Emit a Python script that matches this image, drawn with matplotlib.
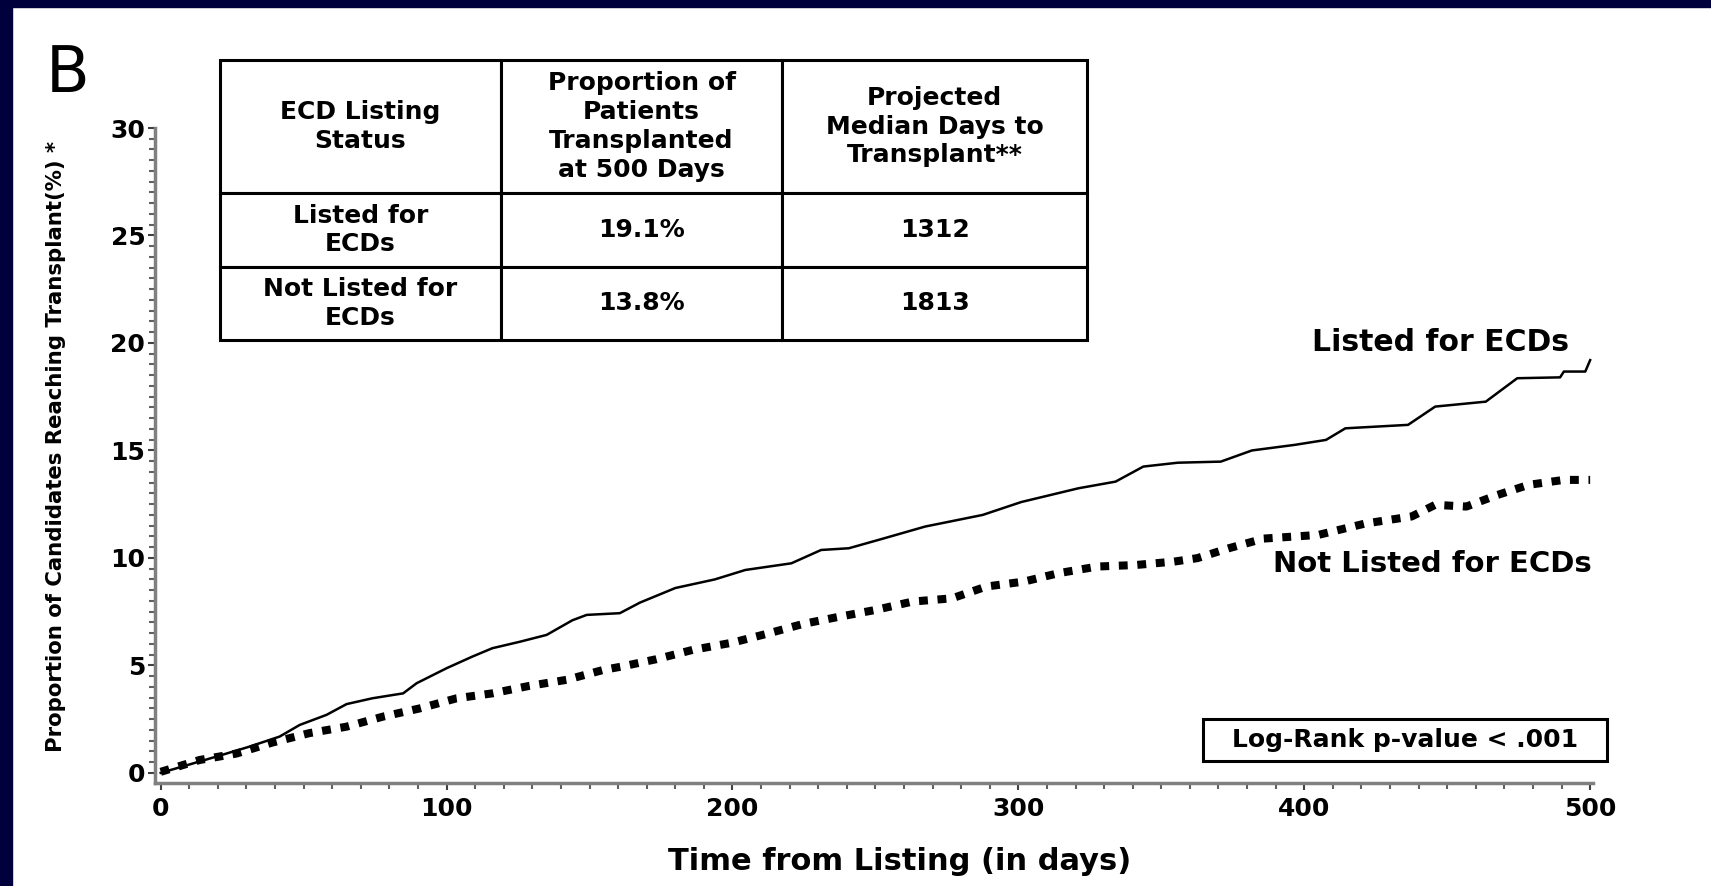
import matplotlib.pyplot as plt
from matplotlib.patches import Rectangle
from matplotlib.ticker import MultipleLocator

W, H = 1711, 886

# cumulative proportion transplanted (%)
days_listed = [0, 19.5, 31, 41.6, 48.6, 58, 65, 74, 84.8, 89.5, 100, 109, 116, 125.6, 135,
               144, 149, 160.6, 167.6, 180, 193.8, 204.5, 220.6, 231, 240.7, 252.7, 267.4,
               287.5, 301, 321, 334, 343.7, 355.8, 370.8, 381.7, 396.7, 407.6, 414.4, 436.3,
               445.8, 463.5, 474.5, 489.5, 490.8, 498.3, 500]
pct_listed = [0, 0.76, 1.22, 1.69, 2.23, 2.7, 3.2, 3.47, 3.7, 4.17, 4.87, 5.41, 5.8, 6.1, 6.42,
              7.1, 7.35, 7.43, 7.92, 8.6, 9.0, 9.44, 9.75, 10.37, 10.45, 10.9, 11.46,
              12.0, 12.6, 13.24, 13.55, 14.25, 14.43, 14.48, 15.0, 15.26, 15.49, 16.03, 16.19,
              17.04, 17.27, 18.36, 18.4, 18.67, 18.67, 19.2]

days_not = [0, 13.6, 26.5, 39, 52, 65, 77.8, 90.6, 103.5, 116, 129, 142, 154.8, 161, 173.4,
            186, 200, 212, 224.7, 236.4, 250, 263, 276.8, 288.8, 302, 314, 327.7, 341, 354.5,
            362.6, 373.6, 385.8, 404.9, 421.3, 437.6, 445.8, 456.7, 467.6, 478.5, 490.8, 500]
pct_not = [0.05, 0.6, 0.9, 1.41, 1.85, 2.15, 2.62, 3.0, 3.47, 3.7, 4.05, 4.33, 4.79, 4.94, 5.29,
           5.72, 6.06, 6.47, 6.93, 7.24, 7.58, 7.97, 8.12, 8.67, 8.9, 9.29, 9.6, 9.67, 9.83,
           9.99, 10.45, 10.9, 11.07, 11.6, 11.93, 12.47, 12.39, 12.93, 13.4, 13.63, 13.63]

table_header = ["ECD Listing\nStatus", "Proportion of\nPatients\nTransplanted\nat 500 Days",
                "Projected\nMedian Days to\nTransplant**"]
table_rows = [["Listed for\nECDs", "19.1%", "1312"],
              ["Not Listed for\nECDs", "13.8%", "1813"]]

fig = plt.figure(figsize=(W / 100, H / 100), dpi=100)
plt.rcParams['font.family'] = ['DejaVu Sans']

# navy slide border (top and left)
fig.add_artist(Rectangle((0, 1 - 7 / H), 1, 7 / H, transform=fig.transFigure,
                         color='#00003c', zorder=10))
fig.add_artist(Rectangle((0, 0), 12 / W, 1, transform=fig.transFigure,
                         color='#00003c', zorder=10))

ax = fig.add_axes([155 / W, 1 - 783 / H, (1593 - 155) / W, (783 - 128) / H])
ax.plot(days_listed, pct_listed, color='black', lw=1.8)
ax.plot(days_not, pct_not, color='black', lw=5.8, dashes=[1.1, 1.2])

ax.set_xlim(-2, 501)
ax.set_ylim(-0.47, 30)
ax.xaxis.set_major_locator(MultipleLocator(100))
ax.xaxis.set_minor_locator(MultipleLocator(10))
ax.yaxis.set_major_locator(MultipleLocator(5))
ax.yaxis.set_minor_locator(MultipleLocator(0.5))
for s in ['top', 'right']:
    ax.spines[s].set_visible(False)
for s in ['left', 'bottom']:
    ax.spines[s].set_color('#808080')
    ax.spines[s].set_linewidth(2.5)
ax.tick_params(which='major', direction='out', length=5, width=1.5, color='#404040',
               labelsize=18)
ax.tick_params(which='minor', direction='out', length=4, width=1.5, color='#606060')
ax.tick_params(axis='y', which='major', pad=2)
ax.tick_params(axis='x', which='major', pad=5)
for lab in ax.get_xticklabels() + ax.get_yticklabels():
    lab.set_fontweight('bold')

ax.text(447.5, 20.0, "Listed for ECDs", fontsize=21.5, fontweight='bold',
        ha='center', va='center')
ax.text(444.8, 9.72, "Not Listed for ECDs", fontsize=21, fontweight='bold',
        ha='center', va='center')
ax.add_patch(Rectangle((364.6, 0.56), 141.4, 1.95, fill=False, lw=2.2, ec='black',
                       clip_on=False))
ax.text(435.3, 1.53, "Log-Rank p-value < .001", fontsize=18, fontweight='bold',
        ha='center', va='center')

fig.text(46 / W, 1 - 92 / H, "B", fontsize=46, ha='left', va='baseline')
fig.text(56 / W, 1 - 446 / H, "Proportion of Candidates Reaching Transplant(%) *",
         fontsize=15.3, fontweight='bold', rotation=90, ha='center', va='center')
fig.text(900 / W, 1 - 862 / H, "Time from Listing (in days)", fontsize=22,
         fontweight='bold', ha='center', va='center')

# summary table
tax = fig.add_axes([220 / W, 1 - 340 / H, (1087 - 220) / W, (340 - 60) / H])
tax.axis('off')
tbl = tax.table(cellText=table_rows, colLabels=table_header, cellLoc='center',
                colWidths=[281, 281, 305], bbox=[0, 0, 1, 1])
tbl.auto_set_font_size(False)
tbl.set_fontsize(18)
row_h = [133, 74, 73]
for (r, c), cell in tbl.get_celld().items():
    cell.set_linewidth(2.2)
    cell.set_height(row_h[r])
    cell.get_text().set_linespacing(1.25)
    cell.get_text().set_fontweight('bold')

fig.savefig("out.png", dpi=100)
